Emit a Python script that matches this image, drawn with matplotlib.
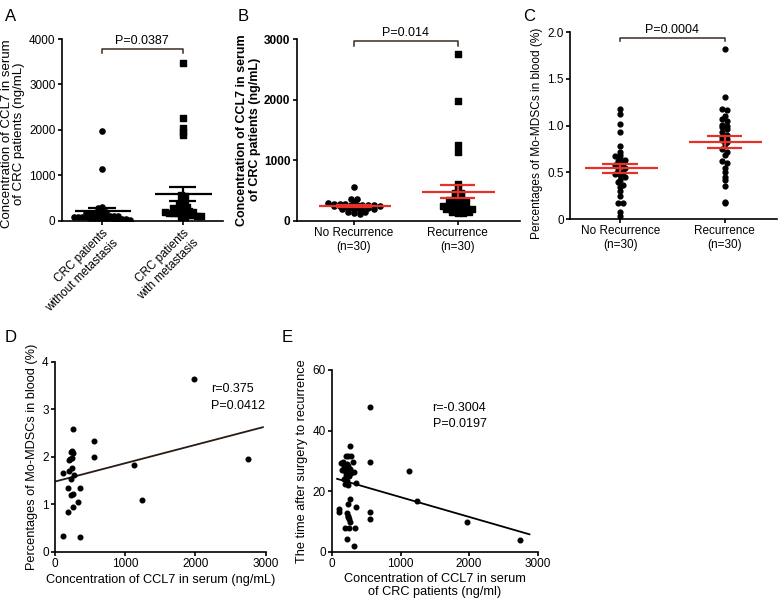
import matplotlib
matplotlib.use("Agg")
import matplotlib.pyplot as plt
import numpy as np

plt.rcParams["font.family"] = ["Liberation Sans", "DejaVu Sans"]

# ---- data ----
a_labels = ["CRC patients\nwithout metastasis", "CRC patients\nwith metastasis"]
a_without = [1980, 1130, 310, 290, 250, 200, 180, 160, 150, 140, 130, 120, 110, 100, 100,
             90, 90, 80, 80, 70, 70, 60, 60, 50, 50, 40, 40, 30, 30, 20]
a_with = [3480, 2250, 2030, 1950, 1880, 560, 540, 420, 400, 350, 320, 300, 280, 260, 240,
          220, 210, 200, 190, 180, 170, 160, 150, 140, 130, 120, 110, 100, 90, 80]

bc_labels = ["No Recurrence\n(n=30)", "Recurrence\n(n=30)"]
b_norec = [560, 360, 350, 300, 290, 275, 270, 268, 265, 262, 260, 258, 255, 250, 245,
           240, 235, 230, 225, 220, 210, 200, 195, 190, 185, 160, 150, 140, 120, 110]
b_rec = [2750, 1980, 1250, 1130, 610, 560, 460, 450, 420, 400, 360, 340, 330, 320, 310,
         250, 240, 230, 220, 210, 200, 200, 190, 180, 170, 160, 150, 140, 130, 120]

c_norec = [1.18, 1.12, 1.02, 0.93, 0.78, 0.72, 0.68, 0.67, 0.65, 0.63, 0.62, 0.60, 0.58,
           0.57, 0.55, 0.52, 0.50, 0.48, 0.47, 0.45, 0.42, 0.40, 0.36, 0.34, 0.30, 0.25,
           0.17, 0.17, 0.08, 0.03]
c_rec = [1.82, 1.30, 1.18, 1.17, 1.10, 1.07, 1.05, 1.01, 1.00, 0.98, 0.96, 0.93, 0.90,
         0.88, 0.86, 0.84, 0.82, 0.80, 0.75, 0.72, 0.68, 0.62, 0.60, 0.55, 0.50, 0.45,
         0.42, 0.35, 0.18, 0.17]

d_x = [252, 560, 560, 228, 245, 262, 214, 235, 200, 1129, 118, 200, 232, 181, 356,
       256, 230, 323, 261, 189, 1243, 118, 356, 1984, 2744, 270, 240]
d_y = [2.58, 2.34, 2.00, 2.11, 2.13, 2.08, 1.95, 1.97, 1.93, 1.83, 1.67, 1.70, 1.53,
       1.34, 1.35, 1.22, 1.20, 1.04, 0.94, 0.83, 1.09, 0.34, 0.32, 3.64, 1.95, 1.62, 1.76]
d_fit = (1.48, 0.000386)   # intercept, slope
d_fit_range = (0, 2960)

e_x = [258, 200, 230, 280, 130, 160, 220, 300, 559, 554, 180, 210, 240, 260, 150, 190,
       230, 1128, 280, 200, 250, 320, 170, 220, 190, 350, 240, 1235, 1974, 2742, 554,
       554, 233, 260, 350, 107, 107, 212, 240, 268, 185, 243, 340, 219, 325, 230, 250]
e_y = [34.9, 31.7, 31.5, 31.7, 29.4, 29.8, 29.0, 29.6, 29.8, 47.7, 28.5, 28.0, 28.3,
       27.5, 27.0, 26.8, 26.5, 26.8, 26.0, 25.5, 25.0, 26.5, 24.0, 23.5, 22.5, 22.6,
       22.0, 16.9, 9.9, 4.0, 13.1, 10.9, 15.8, 17.6, 14.9, 14.1, 13.3, 13.0, 11.5,
       10.0, 8.0, 8.0, 8.0, 4.2, 2.0, 12.0, 10.8]
e_fit = (24.6, -0.00652)
e_fit_range = (75, 2880)

RED = "#e5312a"


def swarm(vals, center, ybin, dx):
    vals = np.asarray(vals, dtype=float)
    bins = np.floor(vals / ybin).astype(int)
    xs = np.zeros(len(vals))
    for b in np.unique(bins):
        idx = np.where(bins == b)[0]
        k = len(idx)
        xs[idx] = center + (np.arange(k) - (k - 1) / 2) * dx
    return xs


def style(ax, bold=False):
    for s in ["top", "right"]:
        ax.spines[s].set_visible(False)
    for s in ["left", "bottom"]:
        ax.spines[s].set_linewidth(1.2)
    ax.tick_params(direction="out", length=3, width=1.2, labelsize=8.5, pad=1.5)
    if bold:
        for t in ax.get_yticklabels():
            t.set_fontweight("bold")


def mean_sem(ax, vals, x, color, lw=1.6):
    v = np.asarray(vals, dtype=float)
    m = v.mean()
    se = v.std(ddof=1) / np.sqrt(len(v))
    ax.hlines(m, x - 0.34, x + 0.36, color=color, lw=lw, zorder=4)
    ax.hlines([m - se, m + se], x - 0.17, x + 0.17, color=color, lw=lw, zorder=4)
    ax.vlines(x, m - se, m + se, color=color, lw=lw, zorder=4)


def bracket(ax, y, tip, text, ty):
    ax.plot([0, 0, 1, 1], [y - tip, y, y, y - tip], color="#3a2b22", lw=1.1, clip_on=False)
    ax.text(0.5, ty, text, ha="center", va="bottom", fontsize=9, clip_on=False)


fig = plt.figure(figsize=(7.78, 6.02), dpi=100)

# ---- A ----
ax = fig.add_axes([0.0793, 0.6334, 0.2073, 0.3018])
ax.scatter(swarm(a_without, 0, 100, 0.05), a_without, s=14, c="k", marker="o", zorder=3)
ax.scatter(swarm(a_with, 1, 100, 0.05), a_with, s=14, c="k", marker="s", zorder=3)
mean_sem(ax, a_without, 0, "k")
mean_sem(ax, a_with, 1, "k")
ax.set_xlim(-0.5, 1.5)
ax.set_ylim(0, 4000)
ax.set_yticks([0, 1000, 2000, 3000, 4000])
ax.set_xticks([0, 1])
ax.set_xticklabels(a_labels, rotation=45, ha="right", rotation_mode="anchor", fontsize=9)
ax.set_ylabel("Concentration of CCL7 in serum\nof CRC patients (ng/mL)", fontsize=9.5,
              linespacing=1.1)
ax.yaxis.set_label_coords(-0.225, 0.48)
bracket(ax, 3780, 90, "P=0.0387", 3830)
style(ax)

# ---- B ----
ax = fig.add_axes([0.3814, 0.6334, 0.287, 0.3018])
ax.scatter(swarm(b_norec, 0, 50, 0.055), b_norec, s=14, c="k", marker="o", zorder=3)
ax.scatter(swarm(b_rec, 1, 50, 0.055), b_rec, s=14, c="k", marker="s", zorder=3)
mean_sem(ax, b_norec, 0, RED)
mean_sem(ax, b_rec, 1, RED)
ax.set_xlim(-0.55, 1.6)
ax.set_ylim(0, 3000)
ax.set_yticks([0, 1000, 2000, 3000])
ax.set_xticks([0, 1])
ax.set_xticklabels(bc_labels, fontsize=9)
ax.set_ylabel("Concentration of CCL7 in serum\nof CRC patients (ng/mL)", fontsize=9,
              fontweight="bold", linespacing=1.1)
ax.yaxis.set_label_coords(-0.16, 0.5)
bracket(ax, 2960, 70, "P=0.014", 3000)
style(ax, bold=True)

# ---- C ----
ax = fig.add_axes([0.7326, 0.6362, 0.266, 0.3106])
ax.scatter(swarm(c_norec, 0, 0.045, 0.05), c_norec, s=12, c="k", marker="o", zorder=3)
ax.scatter(swarm(c_rec, 1, 0.045, 0.05), c_rec, s=12, c="k", marker="o", zorder=3)
mean_sem(ax, c_norec, 0, RED)
mean_sem(ax, c_rec, 1, RED)
ax.set_xlim(-0.48, 1.5)
ax.set_ylim(0, 2.0)
ax.set_yticks([0, 0.5, 1.0, 1.5, 2.0])
ax.set_yticklabels(["0", "0.5", "1.0", "1.5", "2.0"])
ax.set_xticks([0, 1])
ax.set_xticklabels(bc_labels, fontsize=9)
ax.set_ylabel("Percentages of Mo-MDSCs in blood (%)", fontsize=8.6)
ax.yaxis.set_label_coords(-0.13, 0.46)
bracket(ax, 1.94, 0.035, "P=0.0004", 1.96)
style(ax)

# ---- D ----
ax = fig.add_axes([0.0707, 0.0831, 0.2708, 0.3161])
ax.scatter(d_x, d_y, s=11, c="k", zorder=3)
fx = np.array(d_fit_range)
ax.plot(fx, d_fit[0] + d_fit[1] * fx, color="#2a1a14", lw=1.3)
ax.set_xlim(0, 3000)
ax.set_ylim(0, 4)
ax.set_xticks([0, 1000, 2000, 3000])
ax.set_yticks([0, 1, 2, 3, 4])
ax.set_xlabel("Concentration of CCL7 in serum (ng/mL)", fontsize=9.2, labelpad=3)
ax.set_ylabel("Percentages of Mo-MDSCs in blood (%)", fontsize=9.2, labelpad=3)
ax.text(2221, 3.55, "r=0.375\nP=0.0412", fontsize=9, va="top", linespacing=1.5)
style(ax)

# ---- E ----
ax = fig.add_axes([0.4267, 0.0831, 0.2644, 0.3023])
ax.scatter(e_x, e_y, s=11, c="k", zorder=3)
fx = np.array(e_fit_range)
ax.plot(fx, e_fit[0] + e_fit[1] * fx, color="k", lw=1.3)
ax.set_xlim(0, 3000)
ax.set_ylim(0, 60)
ax.set_xticks([0, 1000, 2000, 3000])
ax.set_yticks([0, 20, 40, 60])
ax.set_xlabel("Concentration of CCL7 in serum\nof CRC patients (ng/ml)", fontsize=9.2,
              labelpad=2, linespacing=1.1)
ax.set_ylabel("The time after surgery to recurrence", fontsize=9.2, labelpad=3)
ax.text(1467, 49.5, "r=-0.3004\nP=0.0197", fontsize=9, va="top", linespacing=1.5)
style(ax)

# panel letters
for lab, x, y in [("A", 0.006, 0.985), ("B", 0.305, 0.985), ("C", 0.672, 0.985),
                  ("D", 0.006, 0.452), ("E", 0.362, 0.452)]:
    fig.text(x, y, lab, fontsize=12, va="top")

fig.savefig("out.png", dpi=100)
